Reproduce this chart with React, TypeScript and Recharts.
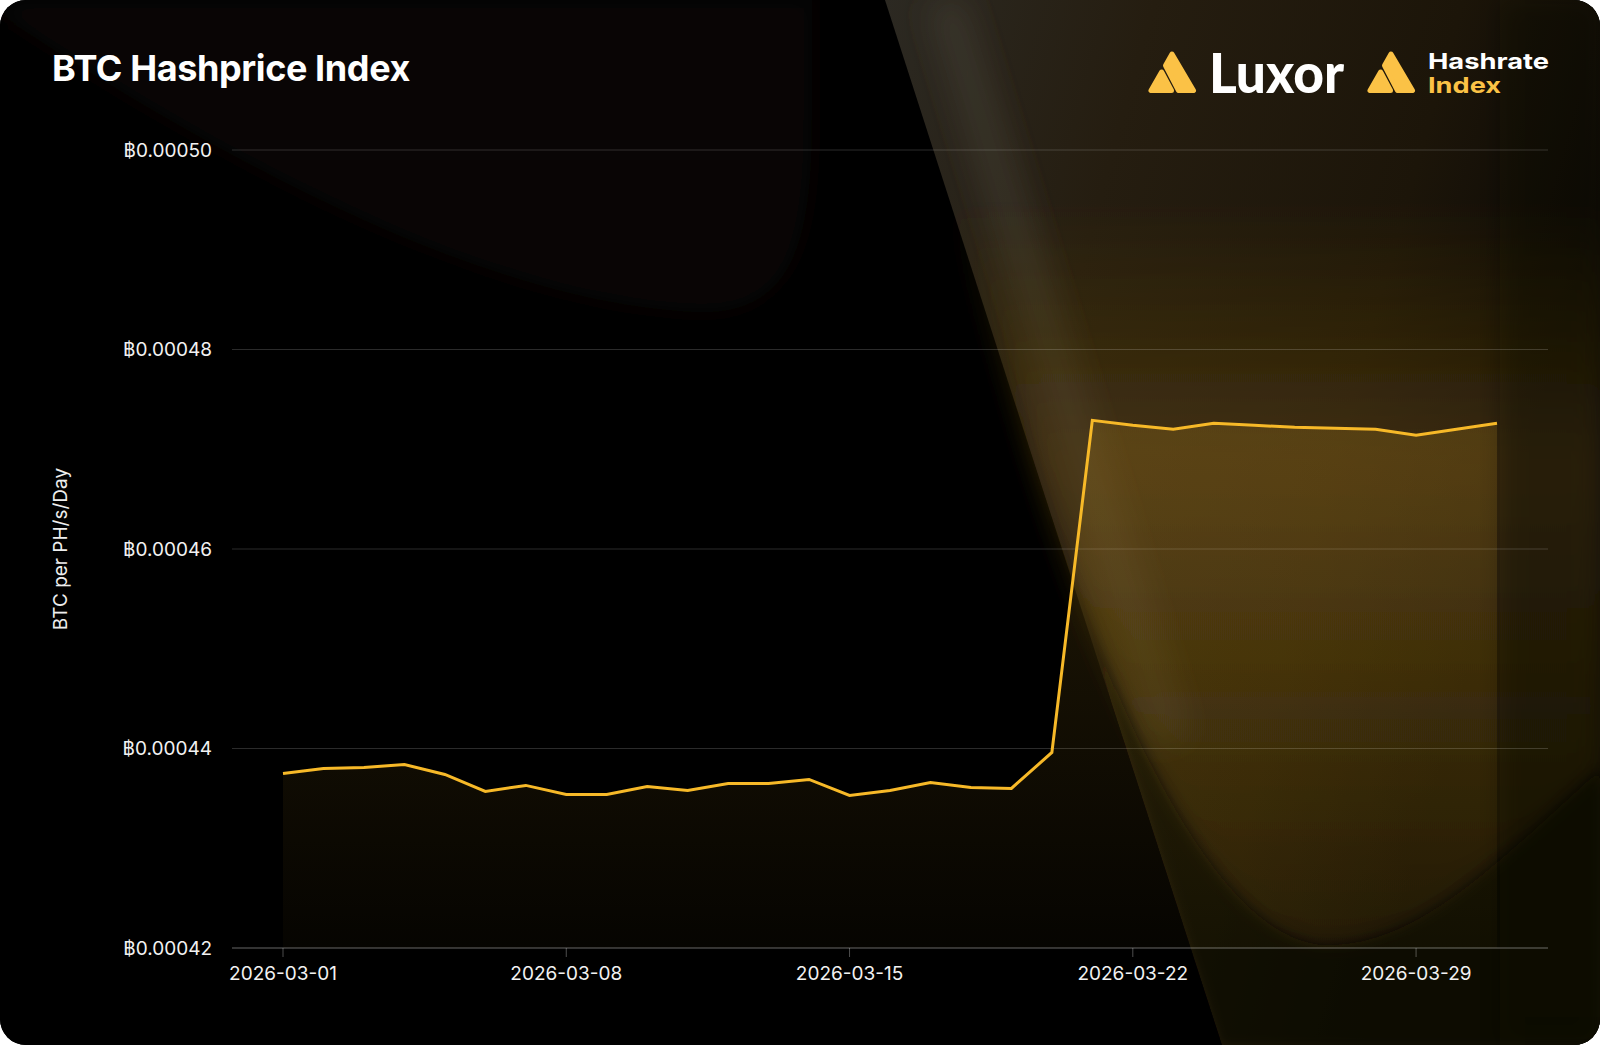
import React from "react";
import { AreaChart, Area, XAxis, YAxis, CartesianGrid } from "recharts";

// daily BTC hashprice, March 2026
const dates = [
  "2026-03-01", "2026-03-02", "2026-03-03", "2026-03-04", "2026-03-05", "2026-03-06", "2026-03-07",
  "2026-03-08", "2026-03-09", "2026-03-10", "2026-03-11", "2026-03-12", "2026-03-13", "2026-03-14",
  "2026-03-15", "2026-03-16", "2026-03-17", "2026-03-18", "2026-03-19", "2026-03-20", "2026-03-21",
  "2026-03-22", "2026-03-23", "2026-03-24", "2026-03-25", "2026-03-26", "2026-03-27", "2026-03-28",
  "2026-03-29", "2026-03-30", "2026-03-31",
];

const hashprice = [
  0.0004375, 0.000438, 0.0004381, 0.0004384, 0.0004374, 0.0004357, 0.0004363,
  0.0004354, 0.0004354, 0.0004362, 0.0004358, 0.0004365, 0.0004365, 0.0004369,
  0.0004353, 0.0004358, 0.0004366, 0.0004361, 0.000436, 0.0004396, 0.0004729,
  0.0004724, 0.000472, 0.0004726, 0.0004724, 0.0004722, 0.0004721, 0.000472,
  0.0004714, 0.000472, 0.0004726,
];

const yTicks = [0.00042, 0.00044, 0.00046, 0.00048, 0.0005];

const data = dates.map((date, i) => ({ date, value: hashprice[i] }));

const YELLOW = "#FBC246";
const LINE = "#F7B928";
const FONT = "Inter, 'Noto Sans', sans-serif";

function Backdrop() {
  return (
    <svg width={1600} height={1045} style={{ position: "absolute", left: 0, top: 0 }}>
      <defs>
        <linearGradient id="sheet" x1="885" y1="0" x2="1600" y2="200" gradientUnits="userSpaceOnUse">
          <stop offset="0" stopColor="#2c2922" />
          <stop offset="0.35" stopColor="#251d10" />
          <stop offset="0.75" stopColor="#1c1509" />
          <stop offset="1" stopColor="#0d0a06" />
        </linearGradient>
        <linearGradient id="glow" x1="0" y1="200" x2="0" y2="950" gradientUnits="userSpaceOnUse">
          <stop offset="0" stopColor="#6a4d12" stopOpacity={0} />
          <stop offset="0.35" stopColor="#6a4d12" stopOpacity={0.45} />
          <stop offset="0.7" stopColor="#5a4210" stopOpacity={0.35} />
          <stop offset="1" stopColor="#4a360c" stopOpacity={0.25} />
        </linearGradient>
        <filter id="soft" x="-20%" y="-20%" width="140%" height="140%">
          <feGaussianBlur stdDeviation="5" />
        </filter>
        <filter id="haze" x="-20%" y="-20%" width="140%" height="140%">
          <feGaussianBlur stdDeviation="12" />
        </filter>
        <filter id="wide" x="-50%" y="-50%" width="200%" height="200%">
          <feGaussianBlur stdDeviation="16" />
        </filter>
      </defs>
      <rect width="1600" height="1045" fill="#000" />
      {/* faint swirl top-left */}
      <path
        d="M 0 15 C 220 160, 480 300, 690 312 C 790 318, 812 250, 812 120 L 812 0 L 0 0 Z"
        fill="#120e07"
        opacity={0.45}
        filter="url(#haze)"
      />
      {/* light sheet on the right */}
      <path d="M 885 0 L 1600 0 L 1600 1045 L 1222 1045 Z" fill="url(#sheet)" />
      <line x1="945" y1="0" x2="1170" y2="740" stroke="#58534a" strokeOpacity={0.3} strokeWidth={40} filter="url(#wide)" />
      <path
        d="M 950 200 L 1046 500 C 1130 760 1230 945 1328 945 C 1420 945 1500 860 1600 770 L 1600 200 Z"
        fill="url(#glow)"
        filter="url(#haze)"
      />
      <path
        d="M 1046 500 C 1130 760 1230 945 1328 945 C 1420 945 1500 860 1600 770 L 1600 1045 L 1222 1045 Z"
        fill="#0c0905"
        opacity={0.7}
        filter="url(#soft)"
      />
      <path d="M 1500 0 L 1600 0 L 1600 1045 L 1500 1045 Z" fill="#0a0704" opacity={0.35} filter="url(#haze)" />
    </svg>
  );
}

function Icon({ x, y }: { x: number; y: number }) {
  return (
    <g transform={`translate(${x},${y})`} fill={YELLOW} stroke={YELLOW} strokeWidth={5} strokeLinejoin="round">
      <path d="M 24 3 L 45.5 39.5 L 30.5 39.5 L 17.5 14.5 Z" />
      <path d="M 13.6 21 L 3 39.5 L 23.5 39.5 Z" />
    </g>
  );
}

function Header() {
  return (
    <svg width={1600} height={1045} style={{ position: "absolute", left: 0, top: 0, pointerEvents: "none" }}>
      <text x={52} y={81} fill="#fff" fontFamily={FONT} fontSize={36} fontWeight={700} letterSpacing={-0.4}>
        BTC Hashprice Index
      </text>
      <Icon x={1148} y={51} />
      <text
        x={1209}
        y={92.5}
        fill="#fff"
        fontFamily="Lato, Inter, sans-serif"
        fontSize={56}
        fontWeight={900}
        textLength={135}
        lengthAdjust="spacingAndGlyphs"
      >
        Luxor
      </text>
      <Icon x={1367} y={51} />
      <text x={1428} y={69} fill="#fff" fontFamily={FONT} fontSize={22} fontWeight={700} textLength={121} lengthAdjust="spacingAndGlyphs">
        Hashrate
      </text>
      <text x={1428} y={92.5} fill={YELLOW} fontFamily={FONT} fontSize={22} fontWeight={700} textLength={73} lengthAdjust="spacingAndGlyphs">
        Index
      </text>
      <text
        transform="translate(67,549) rotate(-90)"
        textAnchor="middle"
        fill="#eeeeee"
        fontFamily={FONT}
        fontSize={19}
      >
        BTC per PH/s/Day
      </text>
    </svg>
  );
}

export default function App() {
  return (
    <>
      <style>{"body{margin:0;background:#fff}"}</style>
      <div
        style={{
          position: "relative",
          width: 1600,
          height: 1045,
          borderRadius: 26,
          overflow: "hidden",
          background: "#000",
        }}
      >
        <Backdrop />
        <div style={{ position: "absolute", left: 0, top: 0 }}>
          <AreaChart width={1600} height={1045} data={data} margin={{ top: 150, right: 52, bottom: 47, left: 0 }}>
            <defs>
              <linearGradient id="areaFill" x1="0" y1="0" x2="0" y2="1">
                <stop offset="0" stopColor={LINE} stopOpacity={0.24} />
                <stop offset="1" stopColor={LINE} stopOpacity={0.04} />
              </linearGradient>
            </defs>
            <CartesianGrid vertical={false} stroke="rgba(255,255,255,0.17)" />
            <XAxis
              dataKey="date"
              interval={6}
              height={50}
              padding={{ left: 51, right: 51 }}
              axisLine={{ stroke: "rgba(255,255,255,0.26)" }}
              tickLine={{ stroke: "rgba(255,255,255,0.3)" }}
              tickSize={9}
              tickMargin={10}
              tick={{ fill: "#f2f2f2", fontSize: 19, fontFamily: FONT }}
            />
            <YAxis
              domain={[0.00042, 0.0005]}
              ticks={yTicks}
              width={232}
              axisLine={false}
              tickLine={false}
              tickSize={0}
              tickMargin={20}
              allowDataOverflow
              tickFormatter={(v: number) => `฿${v.toFixed(5)}`}
              tick={{ fill: "#f2f2f2", fontSize: 19, fontFamily: FONT }}
            />
            <Area
              type="linear"
              dataKey="value"
              stroke={LINE}
              strokeWidth={3}
              fill="url(#areaFill)"
              dot={false}
              activeDot={false}
              isAnimationActive={false}
            />
          </AreaChart>
        </div>
        <Header />
      </div>
    </>
  );
}
